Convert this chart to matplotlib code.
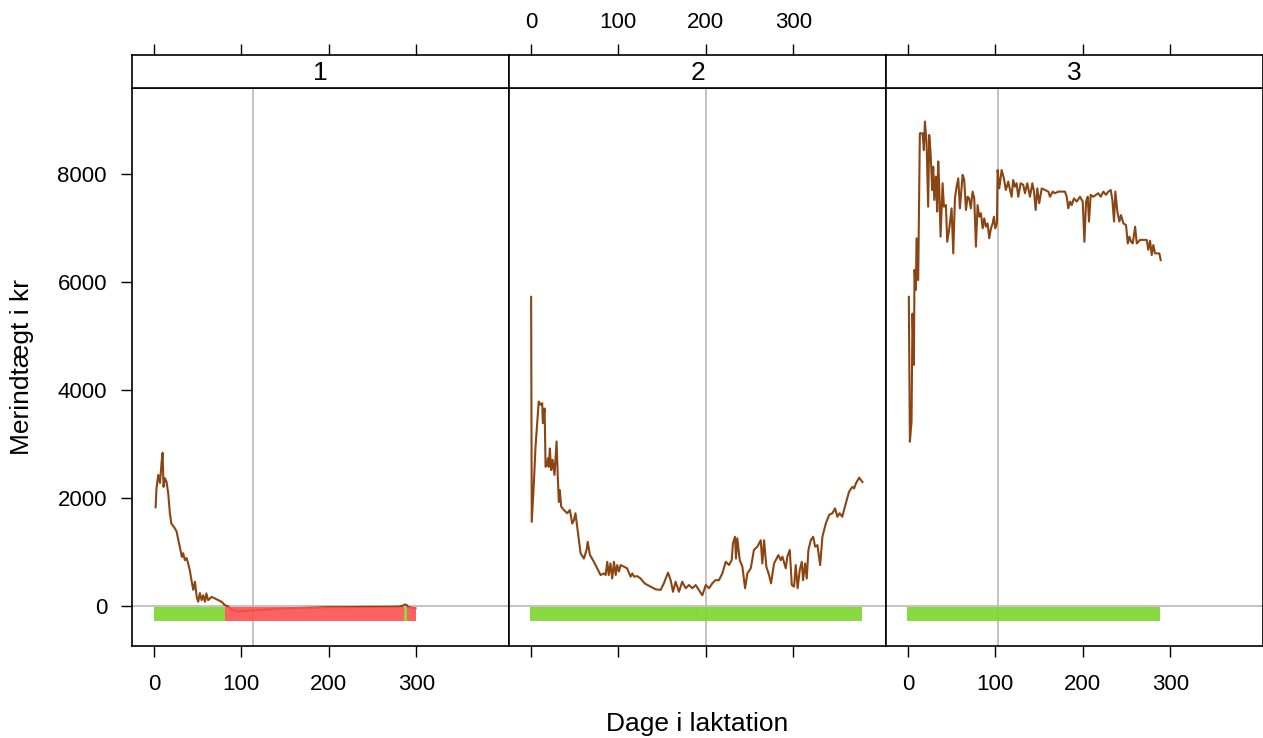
import numpy as np
import matplotlib
matplotlib.use('Agg')
import matplotlib.pyplot as plt

plt.rcParams['font.family'] = ['Liberation Sans', 'DejaVu Sans']

# panel 1
p1_day = [2, 3, 5, 7, 9, 10, 11, 12.6, 14.5, 16.4, 18.3, 20, 24, 26, 28, 30, 32, 33.5, 35.5, 37.4,
          39, 41, 43, 45, 47, 49, 50.7, 52.6, 54.6, 56.4, 58.4, 60, 62, 66, 70, 73.6, 77.4, 81, 85,
          89, 96, 105, 115, 125, 140, 160, 180, 200, 220, 240, 260, 280, 285, 287, 289, 291, 295, 299]
p1_val = [1830, 2180, 2430, 2280, 2700, 2840, 2210, 2370, 2300, 2090, 1720, 1530, 1440, 1380, 1220,
          1070, 910, 980, 850, 890, 800, 670, 480, 300, 450, 170, 80, 240, 110, 200, 80, 235, 110, 170,
          140, 110, 80, 20, -10, -70, -100, -90, -80, -70, -50, -40, -30, -20, -20, -15, -15, -10, 10,
          30, 20, -20, -30, -40]

# panel 2
p2_day = [0.3, 1, 3.4, 5.3, 9, 11, 13, 13.7, 15.7, 16.8, 18.7, 19.5, 20.6, 21.7, 23.2, 24.8, 27, 29.4,
          30.9, 32, 33, 34.7, 37.8, 41.6, 44.6, 47.3, 49.2, 51, 53, 54, 56.8, 60.6, 63.7, 65, 67.5, 72,
          79.7, 83.5, 85.5, 87.3, 89, 91, 93, 95, 97, 98.7, 100.7, 102.6, 106.4, 110, 114, 116, 118,
          121.6, 125.5, 128.5, 131, 142.7, 148.4, 152, 156.8, 159.8, 162.5, 165.5, 169.3, 173, 177,
          180.8, 184.6, 188.4, 192, 196, 200, 203.7, 207.4, 211, 215, 218.9, 222.8, 226.5, 229.6, 231,
          233.4, 234.5, 236, 238.8, 241.8, 244.9, 247.5, 251.4, 255, 258.9, 262.8, 264.6, 266.6, 269.2,
          272.3, 274.6, 278, 283, 285.6, 287.6, 291.4, 293.2, 296, 298.3, 300.9, 302.8, 305, 307.4,
          309.7, 311.2, 313.5, 315.4, 317.3, 320, 322.7, 325, 327.6, 330.7, 333.3, 337.2, 341, 344.7,
          347.8, 350.4, 353, 356, 360, 363.8, 367.6, 369.6, 371.5, 375.3, 379]
p2_val = [5730, 1560, 2270, 2950, 3790, 3730, 3760, 3390, 3660, 2580, 2610, 2740, 2580, 2920, 2520,
          2710, 2430, 3050, 2340, 1930, 2150, 1840, 1780, 1720, 1780, 1530, 1590, 1720, 1470, 1350,
          980, 880, 1040, 1190, 950, 820, 575, 605, 575, 820, 575, 790, 510, 820, 575, 760, 640, 760,
          730, 700, 545, 605, 545, 555, 510, 450, 410, 310, 300, 420, 620, 480, 265, 450, 265, 450,
          330, 390, 330, 390, 300, 200, 390, 330, 420, 480, 480, 605, 820, 760, 850, 1160, 1285, 880,
          1255, 850, 730, 330, 605, 700, 1040, 1100, 1220, 790, 1220, 730, 575, 420, 790, 945, 850,
          915, 700, 915, 1040, 390, 360, 760, 330, 670, 820, 480, 790, 510, 1040, 1220, 1285, 1100,
          1130, 760, 1285, 1530, 1690, 1720, 1810, 1655, 1720, 1655, 1900, 2120, 2210, 2180, 2270,
          2380, 2300]

# panel 3
p3_day = [1.1, 2.3, 4.2, 5.3, 6.9, 7.6, 9.2, 9.9, 11.8, 13.7, 16.8, 18.3, 19.5, 21.4, 23.2, 24.4, 26,
          27.8, 29, 30.2, 32, 33.5, 34.7, 35.8, 37.4, 39.7, 41.2, 43.5, 45, 47.4, 50, 51.9, 53.8, 55.7,
          57.6, 59.5, 62.6, 64.4, 66.4, 68.3, 70.1, 72, 74, 75.9, 77.8, 79.7, 81.6, 83.5, 85.5, 87.3,
          89.2, 91.2, 93, 95, 96.9, 98.4, 99.9, 101.8, 102.6, 104.5, 107.2, 109.8, 112, 114.8, 116,
          118.6, 120.4, 122.4, 124.3, 126.2, 129, 131.9, 133.9, 136.5, 139.6, 142.3, 144.2, 146.1, 148,
          150.2, 153, 156.8, 160.6, 162.5, 165.6, 168.2, 172, 175.9, 179.6, 181.6, 183.4, 185.4, 187.3,
          189.9, 193, 196.8, 199.9, 201.8, 203.7, 205.6, 207.1, 209, 212, 215.1, 217.7, 220.5, 223.5,
          226.5, 229.2, 231.9, 233.8, 235.7, 237.2, 239.5, 241.8, 243.7, 246.4, 249.4, 251.4, 253.3,
          255.2, 257.1, 259.8, 261.7, 263.6, 265.4, 269.2, 273.1, 274.9, 276.9, 278.8, 280.6, 282.6,
          285.2, 287.5, 289.1]
p3_val = [5730, 3045, 3415, 5420, 4470, 6230, 5860, 6815, 6040, 8760, 8760, 8450, 8980, 8580, 7400,
          8730, 8390, 7710, 8140, 7525, 7960, 7310, 8240, 7800, 6845, 7835, 7400, 7430, 6750, 7000,
          7370, 6535, 7555, 7770, 7925, 7370, 7990, 7900, 7340, 7585, 7555, 7370, 7680, 7555, 6660,
          7430, 7215, 7280, 7000, 7185, 7030, 7090, 6815, 7000, 7090, 7215, 7000, 7090, 8080, 7740,
          8080, 7925, 7710, 7865, 7770, 7585, 7895, 7770, 7835, 7585, 7835, 7805, 7650, 7835, 7585,
          7835, 7680, 7340, 7740, 7465, 7740, 7710, 7680, 7585, 7680, 7650, 7680, 7680, 7680, 7585,
          7370, 7495, 7430, 7555, 7495, 7585, 7495, 6750, 7495, 7585, 7125, 7620, 7585, 7620, 7650,
          7585, 7680, 7620, 7680, 7710, 7525, 7125, 7680, 7310, 7125, 7245, 7090, 7060, 6720, 6845,
          6750, 6720, 7030, 6720, 6750, 6785, 6785, 6785, 6600, 6770, 6505, 6690, 6535, 6535, 6535,
          6410]

# status bars below zero: (first day, last day, status)
p1_runs = [(1, 81, 'good'), (82, 285, 'bad'), (286, 289, 'good'), (290, 299, 'bad')]
p2_runs = [(0, 378, 'good')]
p3_runs = [(0, 288, 'good')]

ref_day = [113, 200, 103]
strip_names = ['1', '2', '3']

line_col = '#8B4513'
status_col = {'good': '#7BD62C', 'bad': '#FF4F4F'}

W, H = 1263, 738
fig = plt.figure(figsize=(W / 100, H / 100), dpi=100)

panels = [(p1_day, p1_val, p1_runs), (p2_day, p2_val, p2_runs), (p3_day, p3_val, p3_runs)]
xt = [0, 100, 200, 300]

for i, (d, v, runs) in enumerate(panels):
    left = (132 + i * 377) / W
    ax = fig.add_axes([left, (H - 646) / H, 377 / W, (646 - 88) / H])
    ax.axhline(0, color='#BEBEBE', lw=1.3, zorder=1)
    ax.axvline(ref_day[i], color='#BEBEBE', lw=1.3, zorder=1)
    ax.plot(d, v, color=line_col, lw=1.5, zorder=2)
    for a, b, s in runs:
        days = np.arange(a, b + 1)
        ax.bar(days, -250, bottom=-20, width=1.0, color=status_col[s], linewidth=0,
               alpha=0.9, zorder=3)
    ax.set_xlim(-25, 406)
    ax.set_ylim(-740, 9600)
    ax.set_xticks(xt)
    ax.tick_params(direction='out', length=8, width=1, labelsize=16, pad=12)
    if i == 1:
        ax.set_xticklabels([])
    if i == 0:
        ax.set_yticks([0, 2000, 4000, 6000, 8000])
        ax.tick_params(axis='y', pad=10)
    else:
        ax.set_yticks([])
    for sp in ax.spines.values():
        sp.set_linewidth(1.2)

    sax = fig.add_axes([left, (H - 88) / H, 377 / W, 33 / H])
    sax.set_xlim(-25, 406)
    sax.set_ylim(0, 1)
    sax.set_yticks([])
    sax.xaxis.tick_top()
    sax.set_xticks(xt)
    sax.tick_params(direction='out', length=8, width=1, labelsize=16, pad=8)
    if i != 1:
        sax.set_xticklabels([])
    sax.text(0.5, 0.45, strip_names[i], transform=sax.transAxes, ha='center', va='center',
             fontsize=19)
    for sp in sax.spines.values():
        sp.set_linewidth(1.2)

fig.text(22 / W, 1 - 367 / H, 'Merindtægt i kr', rotation=90, ha='center', va='center', fontsize=19)
fig.text(697 / W, 1 - 724 / H, 'Dage i laktation', ha='center', va='center', fontsize=19)

plt.savefig('out.png', dpi=100)
